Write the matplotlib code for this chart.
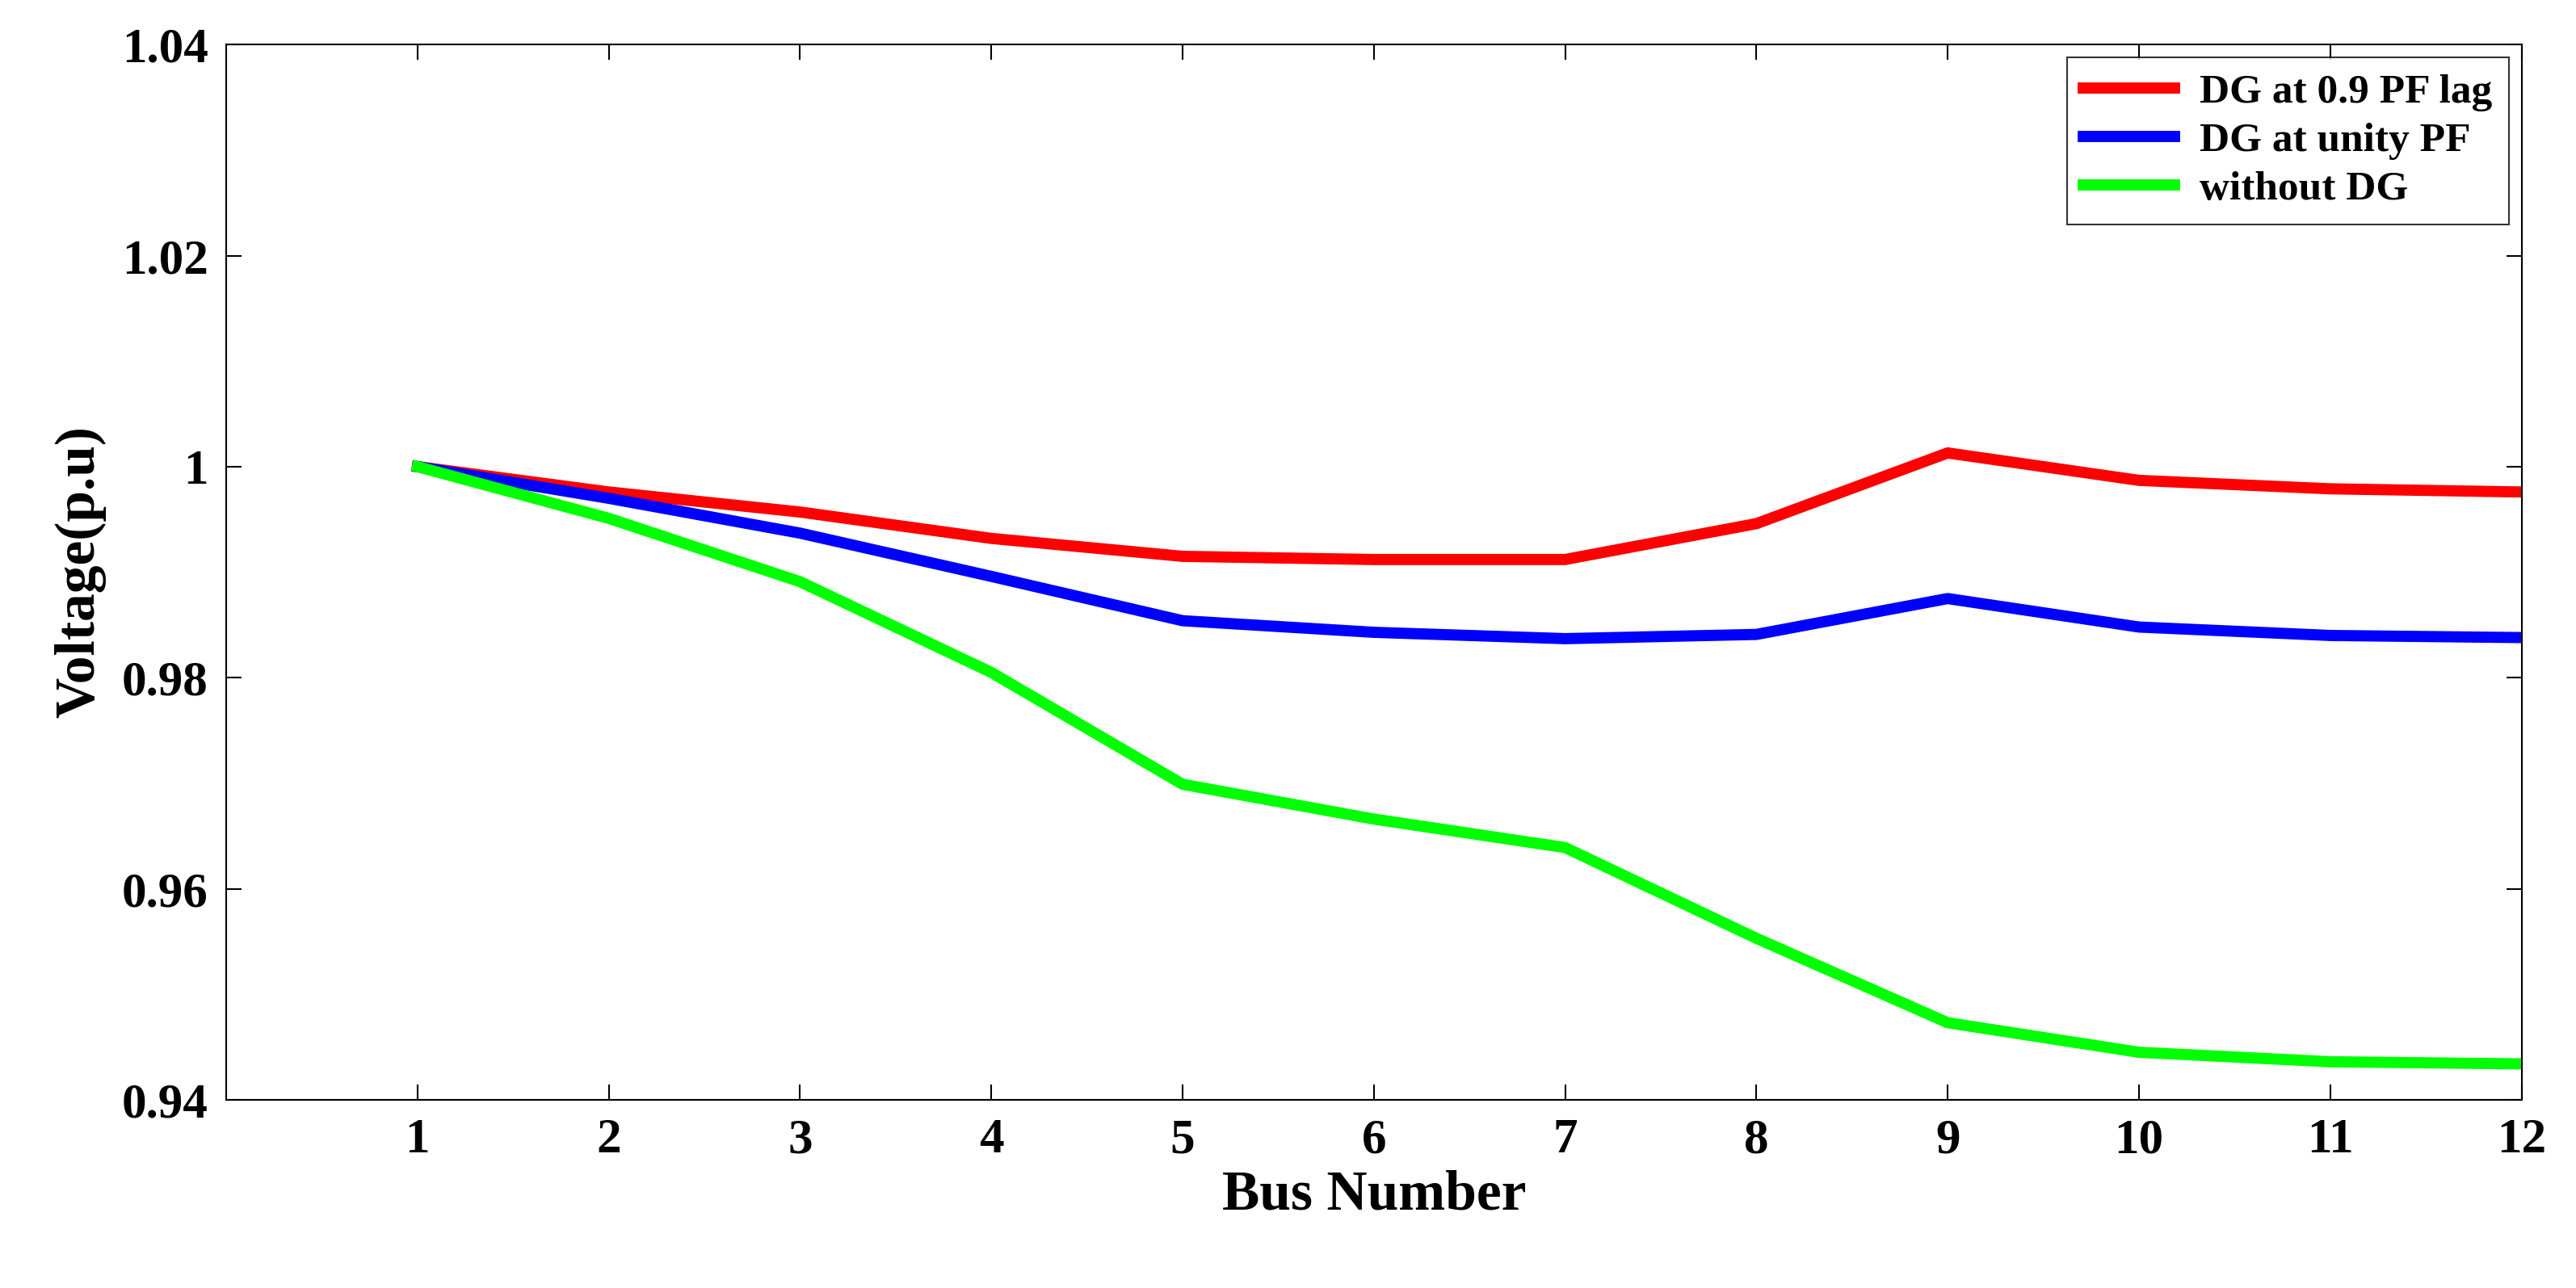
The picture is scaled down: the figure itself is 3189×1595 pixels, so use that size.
import matplotlib
matplotlib.use("Agg")
import matplotlib.pyplot as plt

bus = [1, 2, 3, 4, 5, 6, 7, 8, 9, 10, 11, 12]
pf_lag = [1.0, 0.9976, 0.9957, 0.9932, 0.9915, 0.9912, 0.9912, 0.9946, 1.0013, 0.9987, 0.9979, 0.9976]
unity = [1.0, 0.9970, 0.9937, 0.9896, 0.9854, 0.9843, 0.9837, 0.9841, 0.9875, 0.9848, 0.9840, 0.9838]
no_dg = [1.0, 0.9951, 0.9891, 0.9805, 0.9699, 0.9666, 0.9639, 0.9553, 0.9473, 0.9445, 0.9436, 0.9434]
yticks = [0.94, 0.96, 0.98, 1.0, 1.02, 1.04]
ytick_labels = ["0.94", "0.96", "0.98", "1", "1.02", "1.04"]

plt.rcParams['font.family'] = ['Liberation Serif', 'DejaVu Serif']
plt.rcParams['font.weight'] = 'bold'

fig = plt.figure(figsize=(31.89, 15.95), dpi=100)
ax = fig.add_axes([137/1560, 1-666/780, (1527-137)/1560, (666-27)/780])
ax.plot(bus, pf_lag, color='#ff0000', lw=10, label='DG at 0.9 PF lag')
ax.plot(bus, unity, color='#0000ff', lw=10, label='DG at unity PF')
ax.plot(bus, no_dg, color='#00ff00', lw=10, label='without DG')
ax.set_xlim(0, 12)
ax.set_ylim(0.94, 1.04)
ax.set_xticks(bus)
ax.set_yticks(yticks)
ax.set_yticklabels(ytick_labels)
ax.tick_params(labelsize=44, direction='in', length=14, width=1.5, pad=16, top=True, right=True)
for s in ax.spines.values():
    s.set_linewidth(1.5)
ax.set_xlabel('Bus Number', fontsize=50, fontweight='bold', labelpad=6)
ax.set_ylabel('Voltage(p.u)', fontsize=50, fontweight='bold', labelpad=14)
leg = ax.legend(loc='upper right', fontsize=37, fancybox=False, edgecolor='black',
                handlelength=2.2, borderaxespad=0.3, labelspacing=0.25, handletextpad=0.6)
leg.get_frame().set_linewidth(1.5)
fig.savefig('out.png', dpi=100)
